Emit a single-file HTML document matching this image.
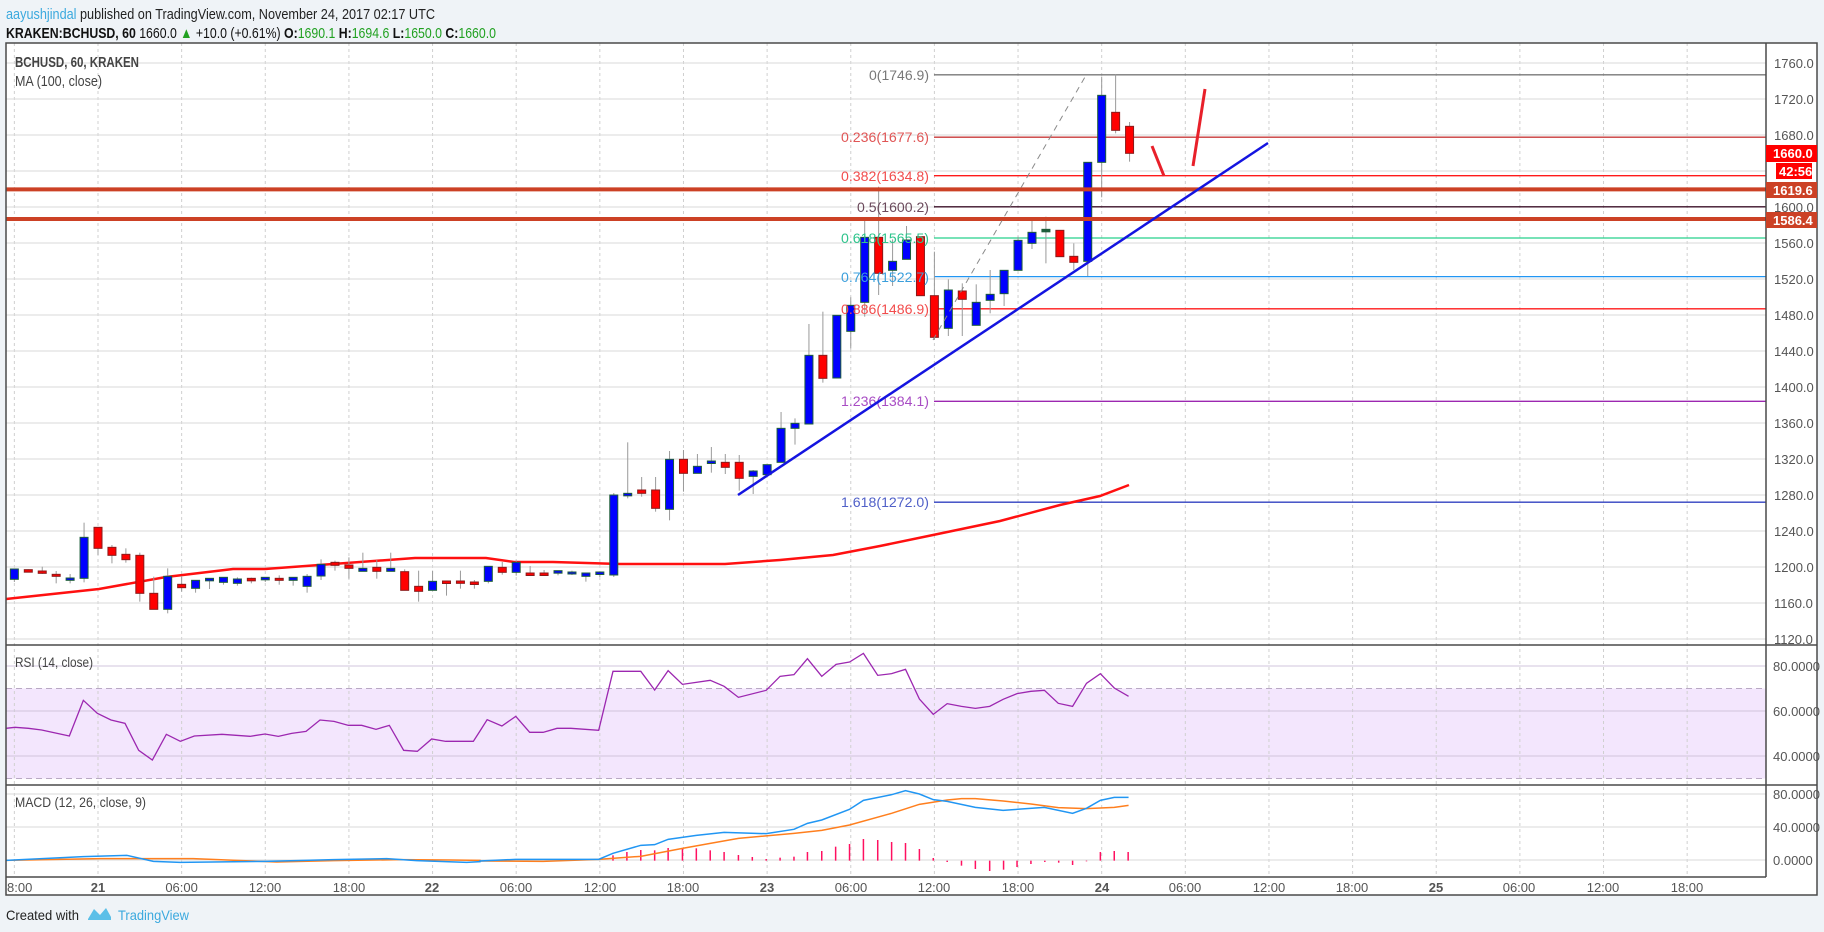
<!DOCTYPE html>
<html><head><meta charset="utf-8"><style>
html,body{margin:0;padding:0;background:#eff3f7;}
svg{display:block;font-family:"Liberation Sans",sans-serif;}
</style></head><body>
<svg id="s" width="1824" height="932" viewBox="0 0 1824 932" xmlns="http://www.w3.org/2000/svg">
<rect x="0" y="0" width="1824" height="932" fill="#eff3f7"/>
<text x="6" y="19" font-size="15" textLength="429" lengthAdjust="spacingAndGlyphs" fill="#222"><tspan fill="#3ba9de">aayushjindal</tspan> published on TradingView.com, November 24, 2017 02:17 UTC</text>
<text x="6" y="38" font-size="15" textLength="490" lengthAdjust="spacingAndGlyphs" fill="#111"><tspan font-weight="bold">KRAKEN:BCHUSD, 60</tspan> 1660.0 <tspan fill="#21a121">▲</tspan> +10.0 (+0.61%) <tspan font-weight="bold">O:</tspan><tspan fill="#21a121">1690.1</tspan> <tspan font-weight="bold">H:</tspan><tspan fill="#21a121">1694.6</tspan> <tspan font-weight="bold">L:</tspan><tspan fill="#21a121">1650.0</tspan> <tspan font-weight="bold">C:</tspan><tspan fill="#21a121">1660.0</tspan></text>
<rect x="6" y="43" width="1811" height="852" fill="#fff"/>
<rect x="6" y="688.5" width="1760" height="90" fill="#f3e6fd"/>
<g id="grid"></g>
<g id="main"></g>
<text x="15" y="67" font-size="15" font-weight="bold" fill="#444" textLength="124" lengthAdjust="spacingAndGlyphs">BCHUSD, 60, KRAKEN</text>
<text x="15" y="86" font-size="15" fill="#444" textLength="87" lengthAdjust="spacingAndGlyphs">MA (100, close)</text>
<text x="15" y="667" font-size="14" fill="#444" textLength="78" lengthAdjust="spacingAndGlyphs">RSI (14, close)</text>
<text x="15" y="807" font-size="14" fill="#444" textLength="131" lengthAdjust="spacingAndGlyphs">MACD (12, 26, close, 9)</text>
<g font-size="14" text-anchor="end">
<text x="929" y="80" fill="#787878" textLength="60" lengthAdjust="spacingAndGlyphs">0(1746.9)</text>
<text x="929" y="142" fill="#e05555" textLength="88" lengthAdjust="spacingAndGlyphs">0.236(1677.6)</text>
<text x="929" y="181" fill="#f24c4c" textLength="88" lengthAdjust="spacingAndGlyphs">0.382(1634.8)</text>
<text x="929" y="212" fill="#6b4a5c" textLength="72" lengthAdjust="spacingAndGlyphs">0.5(1600.2)</text>
<text x="929" y="243" fill="#2ec48c" textLength="88" lengthAdjust="spacingAndGlyphs">0.618(1565.5)</text>
<text x="929" y="282" fill="#3b9fdc" textLength="88" lengthAdjust="spacingAndGlyphs">0.764(1522.7)</text>
<text x="929" y="314" fill="#f24c4c" textLength="88" lengthAdjust="spacingAndGlyphs">0.886(1486.9)</text>
<text x="929" y="406" fill="#a84cc4" textLength="88" lengthAdjust="spacingAndGlyphs">1.236(1384.1)</text>
<text x="929" y="507" fill="#5060c8" textLength="88" lengthAdjust="spacingAndGlyphs">1.618(1272.0)</text>
</g>
<g id="over"></g>
<rect x="6" y="43" width="1811" height="852" fill="none" stroke="#4a4a4a" stroke-width="1.5"/>
<line x1="1766" y1="43" x2="1766" y2="877" stroke="#4a4a4a" stroke-width="1.5"/>
<line x1="6" y1="645" x2="1817" y2="645" stroke="#4a4a4a" stroke-width="1.5"/>
<line x1="6" y1="785" x2="1817" y2="785" stroke="#4a4a4a" stroke-width="1.5"/>
<line x1="6" y1="877" x2="1766" y2="877" stroke="#4a4a4a" stroke-width="1.5"/>
<g font-size="13" fill="#555" id="axis">
<text x="1774" y="68">1760.0</text><text x="1774" y="104">1720.0</text><text x="1774" y="140">1680.0</text>
<text x="1774" y="212">1600.0</text><text x="1774" y="248">1560.0</text><text x="1774" y="284">1520.0</text>
<text x="1774" y="320">1480.0</text><text x="1774" y="356">1440.0</text><text x="1774" y="392">1400.0</text>
<text x="1774" y="428">1360.0</text><text x="1774" y="464">1320.0</text><text x="1774" y="500">1280.0</text>
<text x="1774" y="536">1240.0</text><text x="1774" y="572">1200.0</text><text x="1774" y="608">1160.0</text>
<text x="1774" y="644">1120.0</text>
<text x="1773" y="671">80.0000</text><text x="1773" y="716">60.0000</text><text x="1773" y="761">40.0000</text>
<text x="1773" y="799">80.0000</text><text x="1773" y="832">40.0000</text><text x="1773" y="865">0.0000</text>
</g>
<g font-size="13" fill="#555" text-anchor="middle">
<text x="98" y="892" font-weight="bold">21</text><text x="181.6" y="892">06:00</text><text x="265" y="892">12:00</text><text x="349" y="892">18:00</text>
<text x="432" y="892" font-weight="bold">22</text><text x="516" y="892">06:00</text><text x="600" y="892">12:00</text><text x="683" y="892">18:00</text>
<text x="767" y="892" font-weight="bold">23</text><text x="851" y="892">06:00</text><text x="934" y="892">12:00</text><text x="1018" y="892">18:00</text>
<text x="1102" y="892" font-weight="bold">24</text><text x="1185" y="892">06:00</text><text x="1269" y="892">12:00</text><text x="1352" y="892">18:00</text>
<text x="1436" y="892" font-weight="bold">25</text><text x="1519" y="892">06:00</text><text x="1603" y="892">12:00</text><text x="1687" y="892">18:00</text>
</g>
<text x="7" y="892" font-size="13" fill="#555">8:00</text>
<g font-size="13" font-weight="bold" fill="#fff">
<rect x="1766" y="145" width="51" height="17" fill="#ff0000"/><text x="1773" y="158">1660.0</text>
<rect x="1776" y="163" width="36" height="16" fill="#ff0000"/><text x="1779" y="176">42:56</text>
<rect x="1766" y="182" width="51" height="16" fill="#cc4125"/><text x="1773" y="195">1619.6</text>
<rect x="1766" y="212" width="51" height="16" fill="#cc4125"/><text x="1773" y="225">1586.4</text>
</g>
<text x="6" y="920" font-size="14" fill="#222" textLength="73" lengthAdjust="spacingAndGlyphs">Created with</text>
<path d="M88 919 L94 909 L100 915 L106 908 L111 917 L111 920 L88 920 Z" fill="#5bbfe8"/>
<text x="118" y="920" font-size="14" fill="#3ba9de" textLength="71" lengthAdjust="spacingAndGlyphs">TradingView</text>
</svg>
<script>
var NS="http://www.w3.org/2000/svg";
function el(p,t,a){var e=document.createElementNS(NS,t);for(var k in a)e.setAttribute(k,a[k]);document.getElementById(p).appendChild(e);return e;}
function X(h){return 98+13.94*h;}
for(var h=-6;h<=120;h+=6){var x=X(h);if(x>6&&x<1766)el("grid","line",{x1:x,y1:43,x2:x,y2:877,stroke:"#d0d0d0","stroke-dasharray":"3,3"});}
for(var p=1760;p>=1120;p-=40){var y=63+(1760-p)*0.9;el("grid","line",{x1:6,y1:y,x2:1766,y2:y,stroke:"#dadada"});}
[666,711,756].forEach(function(y){el("grid","line",{x1:6,y1:y,x2:1766,y2:y,stroke:"#d0c4dc"});});
[688.5,778.5].forEach(function(y){el("grid","line",{x1:6,y1:y,x2:1766,y2:y,stroke:"#b9a9c4","stroke-dasharray":"6,4"});});
[794,827,860].forEach(function(y){el("grid","line",{x1:6,y1:y,x2:1766,y2:y,stroke:"#dadada"});});
[[74.8,"#787878"],[137.2,"#c83a3a"],[175.7,"#ff1a1a"],[206.8,"#3c1028"],[238,"#26d08c"],[276.6,"#2196f3"],[308.8,"#ff1a1a"],[401.3,"#9c27b0"],[502.2,"#3040c0"]].forEach(function(a){el("main","line",{x1:934,y1:a[0],x2:1766,y2:a[0],stroke:a[1],"stroke-width":1.3});});
var ma=[[6,599],[99,589],[166,577],[233,569],[265,569],[415,558],[486,558],[514,562],[553,562],[620,564],[725,564],[780,560],[833,555],[880,546],[933,535],[1000,521],[1060,505],[1100,496],[1129,485]];
el("main","polyline",{points:ma.join(" "),fill:"none",stroke:"#ff1010","stroke-width":2.5});
var z5=function(a){return a.map(function(v,i){return i==0?v:500+v/3;});};
var z6=function(a){return a.map(function(v,i){return i==0?v:250+v/3;});};
var z7=function(a){return a.map(function(v,i){return i==0?v:50+v/3;});};
var C=[];
[["B",207,238,207,246],["R",212,215,208,216],["R",213,220,200,222],["R",223,229,213,250],["B",234,241,222,250],["B",112,235,68,247],["R",82,145,82,165],["R",142,166,135,190],["R",163,179,145,188],["R",166,280,158,305],["R",280,328,230,328],["B",229,328,205,340],["R",253,263,228,275],["B",241,265,241,278],["B",238,241,238,267],["B",232,247,232,254],["B",237,250,232,257],["R",238,241,233,250],["B",235,238,235,246],["R",235,241,226,254],["B",232,241,232,257],["B",229,259,222,278],["B",193,228,178,240],["R",187,196,182,212],["R",195,205,172,236],["B",205,214,158,214],["R",202,214,180,236],["B",205,214,158,214],["R",215,271,208,271],["R",259,274,212,305],["B",244,271,212,271],["R",246,250,246,287],["R",243,250,212,266],["R",249,251,240,266],["B",199,244,199,250],["R",202,217,186,224],["B",187,217,183,227],["R",222,224,198,226],["R",222,227,210,228],["B",215,217,215,226],["B",216,222,212,225],["B",219,229,219,245],["B",219,223,219,231]].forEach(function(a){C.push(z5(a));});
C.push(["B",495,575,493,577]);
[["B",733,738,577,745],["R",720,730,681,740],["R",720,775,681,785],["B",628,778,603,811],["R",628,670,600,725],["B",649,670,612,670],["B",636,640,591,668],["R",637,652,612,672],["R",637,685,615,722],["B",663,679,660,732],["B",644,674,644,676],["B",535,637,486,637],["B",520,535,505,584],["B",316,522,222,522],["R",316,385,185,398],["B",196,384,196,384],["B",166,244,142,296]].forEach(function(a){C.push(z6(a));});
[["B",562,757,510,800],["R",562,670,410,735],["B",634,661,568,708],["B",570,628,528,628],["R",560,737,560,737],["R",737,862,605,870],["B",720,835,688,858],["R",723,748,700,858],["B",757,826,703,826],["B",733,751,660,790],["B",661,731,661,768],["B",571,661,560,661],["B",547,580,512,597],["G",541,545,500,640],["R",541,620,541,620],["R",619,637,580,660],["B",337,634,337,678],["B",136,337,80,442],["R",187,241,72,250],["R",229,310,216,335]].forEach(function(a){C.push(z7(a));});
C.forEach(function(c,i){var x=X(i-6);
 el("main","line",{x1:x,y1:c[3],x2:x,y2:c[4],stroke:"#9a9a9a","stroke-width":1});
 var t=c[1],b=c[2];if(b-t<2){t-=1;b=t+2.5;}
 var f=c[0]=="B"?"#0000ff":c[0]=="R"?"#ff0000":"#1e5e3a";
 el("main","rect",{x:x-4,y:t,width:8,height:b-t,fill:f,stroke:c[0]=="R"?"#8b1a1a":"#1e5e3a","stroke-width":1});});
el("over","line",{x1:6,y1:189.4,x2:1766,y2:189.4,stroke:"#cc4125","stroke-width":4});
el("over","line",{x1:6,y1:219,x2:1766,y2:219,stroke:"#cc4125","stroke-width":4});
el("over","line",{x1:933,y1:340,x2:1085,y2:77,stroke:"#8a8a8a","stroke-width":1,"stroke-dasharray":"6,5"});
el("over","line",{x1:738,y1:495,x2:1268,y2:143,stroke:"#1414e0","stroke-width":2.5});
el("over","line",{x1:1152,y1:146,x2:1164,y2:176,stroke:"#e8202a","stroke-width":3});
el("over","line",{x1:1205,y1:89,x2:1193,y2:166,stroke:"#e8202a","stroke-width":3});
var r4=[[20,325],[45,322],[85,325],[125,330],[208,348],[250,241],[292,280],[333,300],[375,310],[416,391],[457,420],[499,343],[541,364],[583,348],[666,343],[750,349],[795,342],[835,349],[875,340],[918,334],[960,300],[1002,304],[1045,316],[1085,316],[1128,328],[1168,316],[1211,391],[1252,394],[1295,357],[1337,364],[1420,364]].map(function(p){return [p[0]/3,620+p[1]/3];});
var r8=[[0,258],[17,224],[52,243],[85,214],[118,262],[150,262],[183,250],[216,250],[282,256],[316,79],[382,79],[415,135],[447,77],[481,118],[547,106],[580,124],[614,157],[680,136],[713,94],[746,89],[778,41],[812,94],[846,58],[878,51],[911,25],[945,91],[978,86],[1011,73],[1044,162],[1077,208],[1110,176],[1144,184],[1177,190],[1211,184],[1243,163],[1276,146],[1309,139],[1341,136],[1374,175],[1408,184],[1441,115],[1474,86],[1507,129],[1541,154]].map(function(p){return [480+p[0]/2.376,645+p[1]/3];});
r4[0][0]=6;
el("main","polyline",{points:r4.concat(r8).join(" "),fill:"none",stroke:"#9c27b0","stroke-width":1.3});
function m8(a){return a.map(function(p){return [480+p[0]/2.376,645+p[1]/3];});}
function m4(a){return a.map(function(p){return [p[0]/3,620+p[1]/3];});}
var hb=[[316,631],[349,621],[382,615],[415,616],[447,609],[481,609],[514,610],[547,616],[580,621],[614,630],[647,636],[680,642],[713,638],[746,635],[778,621],[812,618],[845,605],[878,597],[911,582],[945,585],[978,591],[1011,594],[1044,612],[1077,639],[1110,651],[1144,662],[1177,672],[1211,678],[1244,674],[1276,666],[1309,657],[1342,651],[1375,653],[1408,660],[1441,649],[1474,621],[1507,618],[1540,621]];
hb.forEach(function(b){var x=480+b[0]/2.376,y=645+b[1]/3,z=645+647/3;el("main","line",{x1:x,y1:Math.min(y,z),x2:x,y2:Math.max(y,z),stroke:"#ff1060","stroke-width":1.5});});
var bl=m4([[18,721],[250,710],[380,706],[460,724],[540,727],[800,724],[1000,719],[1160,716],[1250,722],[1400,727],[1440,725]]).concat(m8([[0,648],[85,643],[282,643],[316,625],[382,601],[415,599],[447,583],[514,571],[580,562],[680,566],[746,553],[778,535],[812,525],[878,493],[911,466],[978,449],[1011,437],[1044,447],[1077,464],[1110,469],[1177,487],[1243,496],[1341,487],[1408,505],[1441,490],[1474,466],[1507,457],[1541,457]]));
var or=m4([[18,721],[300,716],[580,716],[830,726],[1000,722],[1200,719],[1350,720],[1440,721]]).concat(m8([[0,648],[150,649],[282,643],[382,634],[481,610],[547,595],[614,580],[746,565],[812,556],[878,540],[978,505],[1044,478],[1110,465],[1144,461],[1177,461],[1243,468],[1309,477],[1374,488],[1441,491],[1507,487],[1541,481]]));
el("main","polyline",{points:or.join(" "),fill:"none",stroke:"#ff7f1e","stroke-width":1.5});
el("main","polyline",{points:bl.join(" "),fill:"none",stroke:"#2196f3","stroke-width":1.5});
</script>
</body></html>
